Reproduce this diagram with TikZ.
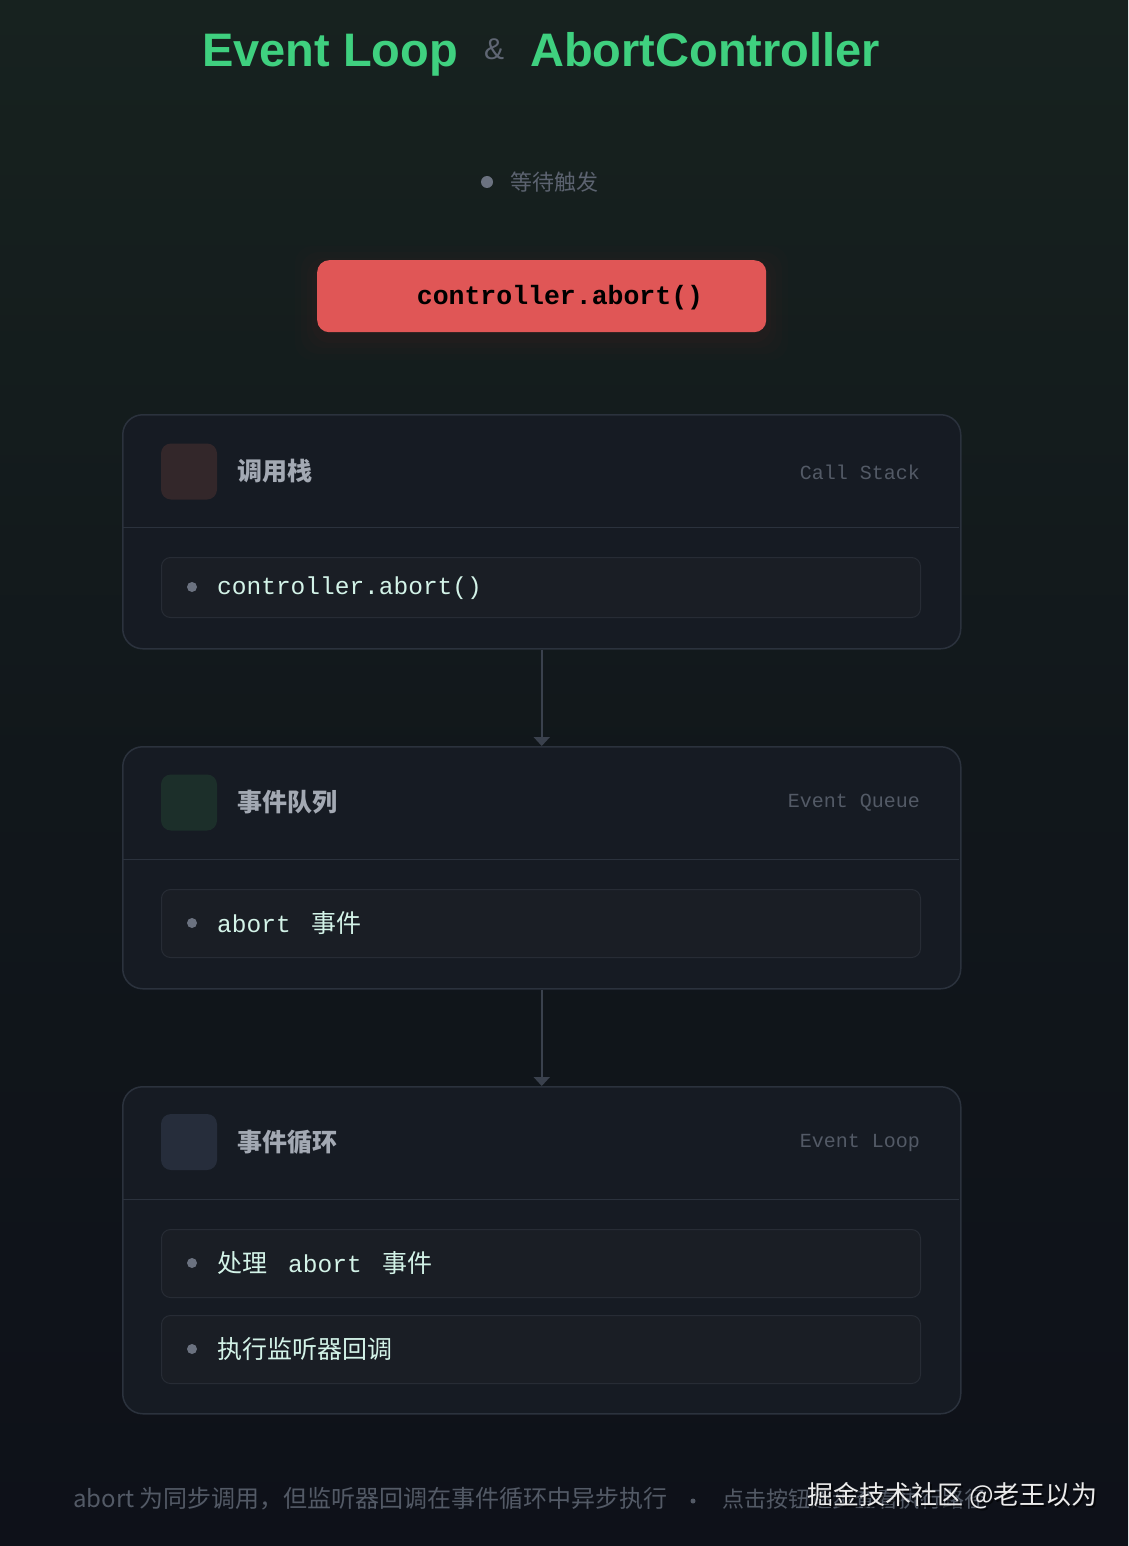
\documentclass[tikz,border=0pt]{standalone}
\usepackage{fontspec}
\setmainfont{Liberation Sans}
\setmonofont{Liberation Mono}
\newfontfamily\cjk{Noto Sans CJK SC}
\usetikzlibrary{arrows.meta}
\definecolor{bgtop}{HTML}{17221F}
\definecolor{bgbot}{HTML}{0E1119}
\definecolor{titlegreen}{HTML}{3FD07F}
\definecolor{ampgray}{HTML}{5F6673}
\definecolor{mutedgray}{HTML}{5C6370}
\definecolor{btnred}{HTML}{E05656}
\definecolor{panelfill}{HTML}{161B23}
\definecolor{panelborder}{HTML}{2B323D}
\definecolor{itemfill}{HTML}{1A1E25}
\definecolor{itemborder}{HTML}{272C35}
\definecolor{headtext}{HTML}{A3A9B3}
\definecolor{labeltext}{HTML}{535A66}
\definecolor{mint}{HTML}{D3F3E8}
\definecolor{dotgray}{HTML}{6B7280}
\definecolor{arrowgray}{HTML}{3A414D}
\definecolor{icored}{HTML}{33272A}
\definecolor{icogreen}{HTML}{1C2F2A}
\definecolor{icoblue}{HTML}{262D3B}
\tikzset{
  panelbox/.style={draw=panelborder, line width=1.5pt, fill=panelfill, rounded corners=20pt, inner sep=0pt, anchor=north west},
  itembox/.style={draw=itemborder, line width=1pt, fill=itemfill, rounded corners=9pt, inner sep=0pt, anchor=north west, minimum width=759pt},
  iconbox/.style={rounded corners=10pt, inner sep=0pt, minimum width=56pt, minimum height=56pt},
  headtitle/.style={anchor=west, text=headtext, font=\cjk\bfseries\fontsize{25}{29}\selectfont, inner sep=0pt},
  headlabel/.style={anchor=east, text=labeltext, font=\ttfamily\fontsize{20}{24}\selectfont, inner sep=0pt},
  itemtext/.style={anchor=west, text=mint, inner sep=0pt},
  itemdot/.style={circle, fill=dotgray, inner sep=0pt, minimum size=10pt},
  flowarrow/.style={draw=arrowgray, line width=2pt, -{Triangle[width=16pt,length=9pt]}},
}
\newcommand{\mono}{\ttfamily\fontsize{24.5}{28}\selectfont}
\newcommand{\cjkitem}{\cjk\fontsize{25}{29}\selectfont}
\begin{document}
\begin{tikzpicture}[x=1pt,y=-1pt]
\useasboundingbox (0,0) rectangle (1128,1546);
% background
\shade[top color=bgtop, bottom color=bgbot, middle color=bgbot!65!bgtop] (0,0) rectangle (1128,1546);

% title
\node[anchor=base west, inner sep=0pt, text=titlegreen, font=\bfseries\fontsize{47}{56}\selectfont] (t1) at (202,67) {Event Loop};
\node[anchor=base, inner sep=0pt, text=ampgray, font=\fontsize{30}{36}\selectfont] (amp) at (494,60) {\&};
\node[anchor=base west, inner sep=0pt, text=titlegreen, font=\bfseries\fontsize{47}{56}\selectfont] (t2) at (530,67) {AbortController};

% status
\node[circle, fill=dotgray, inner sep=0pt, minimum size=12pt] (sdot) at (487,182) {};
\node[anchor=west, inner sep=0pt, text=mutedgray, font=\cjk\fontsize{22}{26}\selectfont] (stat) at (510,182) {等待触发};

% button glow
\foreach \g/\o in {22/0.04,16/0.05,10/0.06,5/0.08}{
  \fill[btnred!40!black, opacity=\o, rounded corners=18pt] (317-\g,262-\g+6) rectangle (766+\g,332+\g+6);
}
\node[fill=btnred, rounded corners=12pt, minimum width=449pt, minimum height=72pt, inner sep=0pt, anchor=north west] (btn) at (317,260) {};
\node[inner sep=0pt, text=black, font=\ttfamily\bfseries\fontsize{26.5}{30}\selectfont] (btntext) at (560,298) {controller.abort()};

% panels
\node[panelbox, minimum width=838pt, minimum height=234pt] (p1) at (122,414) {};
\node[panelbox, minimum width=838pt, minimum height=242pt] (p2) at (122,746) {};
\node[panelbox, minimum width=838pt, minimum height=327pt] (p3) at (122,1086) {};

% dividers
\draw[panelborder, line width=1pt] (123,527) -- (959,527);
\draw[panelborder, line width=1pt] (123,859) -- (959,859);
\draw[panelborder, line width=1pt] (123,1199) -- (959,1199);

% headers
\node[iconbox, fill=icored] (i1) at (189,471.5) {};
\node[headtitle] (h1) at (237,471) {调用栈};
\node[headlabel] (l1) at (920,472) {Call Stack};

\node[iconbox, fill=icogreen] (i2) at (189,802.5) {};
\node[headtitle] (h2) at (237,802) {事件队列};
\node[headlabel] (l2) at (920,803) {Event Queue};

\node[iconbox, fill=icoblue] (i3) at (189,1142) {};
\node[headtitle] (h3) at (237,1142) {事件循环};
\node[headlabel] (l3) at (920,1143) {Event Loop};

% items
\node[itembox, minimum height=60pt] (a1) at (161,557) {};
\node[itemdot] (d1) at (192,587) {};
\node[itemtext, font=\mono] (x1) at (217,588) {controller.abort()};

\node[itembox, minimum height=68pt] (a2) at (161,889) {};
\node[itemdot] (d2) at (192,923) {};
\node[itemtext] (x2) at (217,923) {\mono abort\hspace{21pt}\cjkitem 事件};

\node[itembox, minimum height=68pt] (a3) at (161,1229) {};
\node[itemdot] (d3) at (192,1263) {};
\node[itemtext] (x3) at (217,1263) {\cjkitem 处理\hspace{21pt}\mono abort\hspace{21pt}\cjkitem 事件};

\node[itembox, minimum height=68pt] (a4) at (161,1315) {};
\node[itemdot] (d4) at (192,1349) {};
\node[itemtext] (x4) at (217,1349) {\cjkitem 执行监听器回调};

% arrows
\draw[flowarrow] (p1.south) -- (p2.north);
\draw[flowarrow] (p2.south) -- (p3.north);

% footer
\node[anchor=west, inner sep=0pt, text=labeltext, font=\cjk\fontsize{24}{28}\selectfont] (foot) at (73,1499) {abort 为同步调用，但监听器回调在事件循环中异步执行};
\node[circle, fill=labeltext, inner sep=0pt, minimum size=5pt] (fdot) at (693,1501) {};
\node[anchor=west, inner sep=0pt, text=labeltext, font=\cjk\fontsize{22}{26}\selectfont] (foot2) at (722,1499) {点击按钮逐步查看执行路径};
% watermark
\node[anchor=west, inner sep=0pt, text=black, opacity=0.6, font=\cjk\fontsize{26}{30}\selectfont] (wms) at (809,1498) {掘金技术社区 @老王以为};
\node[anchor=west, inner sep=0pt, text=white!92!black, font=\cjk\fontsize{26}{30}\selectfont] (wm) at (807,1496) {掘金技术社区 @老王以为};
\end{tikzpicture}
\end{document}
